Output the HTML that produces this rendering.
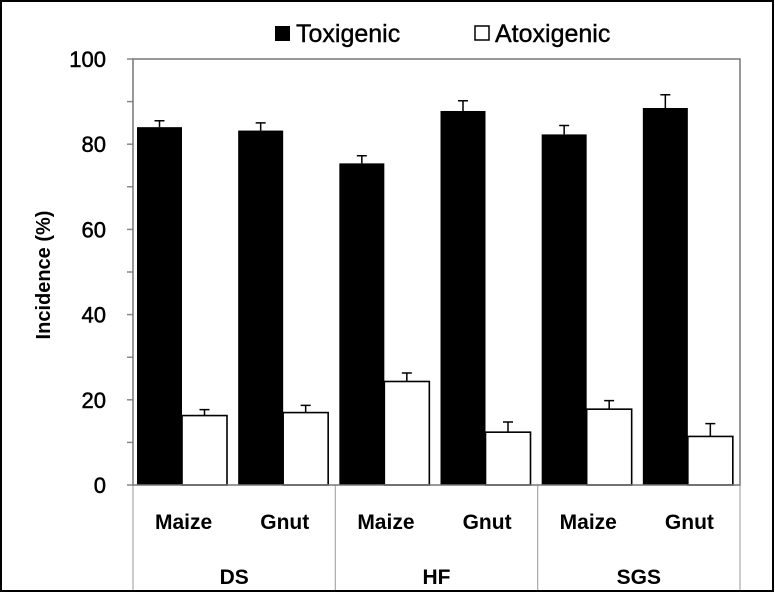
<!DOCTYPE html>
<html><head><meta charset="utf-8"><style>
body{margin:0;background:#fff}
svg{display:block;font-family:"Liberation Sans",Arial,sans-serif}
</style></head><body>
<svg id="chart" width="775" height="596">
<rect x="1" y="1" width="772" height="590" fill="#fff" stroke="#000" stroke-width="2"/>
<g>
<rect x="275" y="26" width="15" height="15" fill="#000"/>
<text x="296" y="42" font-size="25" stroke="#000" stroke-width="0.4">Toxigenic</text>
<rect x="475" y="26" width="14" height="14" fill="#fff" stroke="#000" stroke-width="1.5"/>
<text x="495" y="42" font-size="25" stroke="#000" stroke-width="0.4">Atoxigenic</text>
</g>
<text transform="translate(50,275) rotate(-90)" text-anchor="middle" font-size="20" font-weight="bold">Incidence (%)</text>
<g id="plot"></g>
</svg>
<script>
const categories=["Maize","Gnut","Maize","Gnut","Maize","Gnut"];
const groups=["DS","HF","SGS"];
const toxigenic=[84,83.2,75.5,87.8,82.3,88.5];
const toxErr=[1.5,1.8,1.8,2.4,2.1,3.1];
const atoxigenic=[16.3,17,24.3,12.4,17.8,11.4];
const atoxErr=[1.4,1.7,2.0,2.4,2.0,3.0];
const yTicks=[0,20,40,60,80,100];
const minorTicks=[10,30,50,70,90];
const NS="http://www.w3.org/2000/svg";
const X0=133,X1=740,Y0=485,Y1=59;
const catW=(X1-X0)/categories.length;
const y=v=>Y0-(v/100)*(Y0-Y1);
const xc=i=>X0+i*catW;
const g=document.getElementById('plot');
function mk(t,a){const e=document.createElementNS(NS,t);for(const k in a)e.setAttribute(k,a[k]);g.appendChild(e);return e;}
minorTicks.forEach(v=>{
 const t=mk('line',{x1:X0-6,x2:X0,y1:y(v),y2:y(v),stroke:'#888','stroke-width':1.5});
 
 
});
yTicks.forEach(v=>{
 const t=mk('line',{x1:X0-6,x2:X0,y1:y(v),y2:y(v),stroke:'#888','stroke-width':1.5});
 
 
 const l=mk('text',{x:X0-27,y:y(v)+8,'text-anchor':'end','font-size':22,stroke:'#000','stroke-width':0.5});
 l.textContent=v;
 
 
});
function bar(i,v,e,fill,off,name){
 const x=xc(i)+off,w=45;
 const r=mk('rect',{x:x,y:y(v),width:w,height:Y0-y(v),fill:fill,stroke:'#000','stroke-width':fill==='#000'?0:1.6});
 
 
 const cx=x+w/2;
 const eb=mk('path',{d:`M${cx},${y(v)}V${y(v+e)}M${cx-5},${y(v+e)}H${cx+5}`,stroke:'#000','stroke-width':1.5,fill:'none'});
 
 
}
categories.forEach((c,i)=>{
 bar(i,toxigenic[i],toxErr[i],'#000',4,'toxigenic');
 bar(i,atoxigenic[i],atoxErr[i],'#fff',49,'atoxigenic');
 const t=mk('text',{x:xc(i)+catW/2,y:529,'text-anchor':'middle','font-size':21,'font-weight':'bold'});
 t.textContent=c;
 
 
});
groups.forEach((gname,j)=>{
 const t=mk('text',{x:xc(j*2)+catW,y:584,'text-anchor':'middle','font-size':21,'font-weight':'bold'});
 t.textContent=gname;
 
 
});
for(let j=0;j<=groups.length;j++){
 const d=mk('line',{x1:xc(j*2),x2:xc(j*2),y1:Y0,y2:590,stroke:'#aaa','stroke-width':1.2});
 
 
}
const f=mk('rect',{x:X0,y:Y1,width:X1-X0,height:Y0-Y1,fill:'none',stroke:'#777','stroke-width':1.5});


</script>
</body></html>
